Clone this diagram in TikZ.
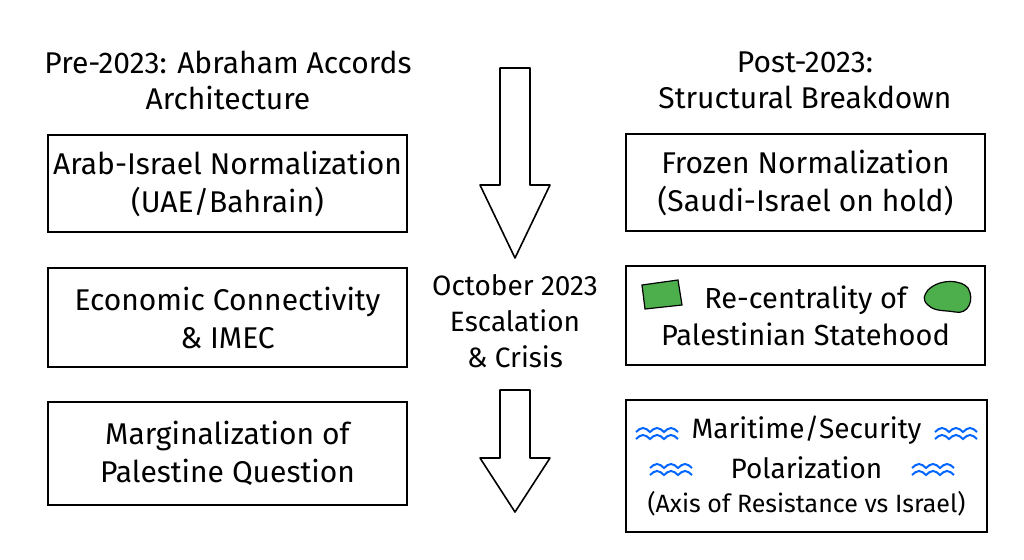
\documentclass[tikz,border=0pt]{standalone}
\usepackage{fontspec}
\setmainfont{Fira Sans}
\begin{document}
\begin{tikzpicture}[x=1pt,y=-1pt,
  box/.style={draw,line width=1.6pt,minimum width=359pt,align=center,font=\fontsize{30}{38}\selectfont,inner sep=0pt},
  ttl/.style={align=center,font=\fontsize{30}{36}\selectfont},
  mid/.style={align=center,font=\fontsize{28}{36}\selectfont},
  arr/.style={draw,line width=1.6pt,fill=white,line join=round},
  wave/.style={draw=blue!60!cyan,line width=2pt},
  land/.style={draw=black,fill=green!55!black!70!white,line width=1.2pt}]
\useasboundingbox (0,0) rectangle (1024,559);
\node[ttl] (lt) at (228,80) {Pre-2023: Abraham Accords\\Architecture};
\node[ttl] (rt) at (805,80) {Post-2023:\\Structural Breakdown};
\node[box,minimum height=97pt] (l1) at (227.5,183.5) {Arab-Israel Normalization\\(UAE/Bahrain)};
\node[box,minimum height=99pt] (l2) at (227.5,317.5) {Economic Connectivity\\\& IMEC};
\node[box,minimum height=103pt] (l3) at (227.5,453.5) {Marginalization of\\Palestine Question};
\node[box,minimum height=97pt] (r1) at (805.5,182.5) {Frozen Normalization\\(Saudi-Israel on hold)};
\node[box,minimum height=99pt,font=\fontsize{29}{37}\selectfont] (r2) at (805.5,315.5) {Re-centrality of\\Palestinian Statehood};
\node[box,minimum height=132pt,minimum width=361pt,font=\fontsize{28}{40}\selectfont] (r3) at (806.5,466) {Maritime/Security\\Polarization\\[-6pt]{\fontsize{25}{30}\selectfont(Axis of Resistance vs Israel)}};
\node[mid] (m) at (515,321) {October 2023\\Escalation\\\& Crisis};
\draw[arr] (500,68) -- (530,68) -- (530,185) -- (550,185) -- (515,258) -- (480,185) -- (500,185) -- cycle;
\draw[arr] (500,390) -- (530,390) -- (530,458) -- (550,458) -- (515,512) -- (480,458) -- (500,458) -- cycle;
\draw[land] (642,285) -- (678,280) -- (682,305) -- (645,309) -- cycle;
\draw[land] (928,290) .. controls (940,278) and (962,280) .. (968,288) .. controls (975,300) and (968,315) .. (955,312) .. controls (945,310) and (935,312) .. (928,305) .. controls (922,300) and (924,295) .. (928,290) -- cycle;
\foreach \x/\y in {636/432,935/432,650/468,912/468}{
  \draw[wave] (\x,\y) sin (\x+7,\y-4) cos (\x+14,\y) sin (\x+21,\y-4) cos (\x+28,\y) sin (\x+35,\y-4) cos (\x+42,\y);
  \draw[wave] (\x,\y+7) sin (\x+7,\y+3) cos (\x+14,\y+7) sin (\x+21,\y+3) cos (\x+28,\y+7) sin (\x+35,\y+3) cos (\x+42,\y+7);}
\end{tikzpicture}
\end{document}
